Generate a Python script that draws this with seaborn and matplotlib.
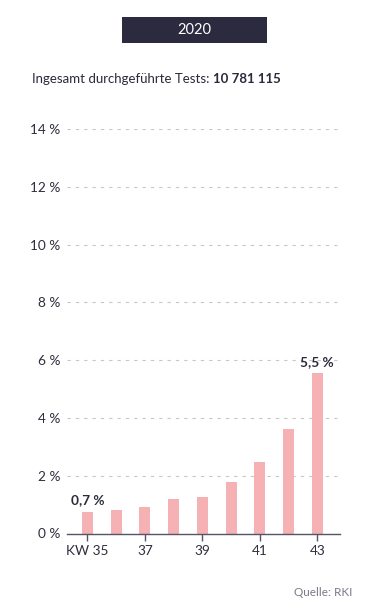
import matplotlib
matplotlib.use("Agg")
import matplotlib.pyplot as plt
from matplotlib.patches import Rectangle
import seaborn as sns
import pandas as pd

weeks = ["35", "36", "37", "38", "39", "40", "41", "42", "43"]
rates = [0.74, 0.80, 0.92, 1.19, 1.26, 1.78, 2.49, 3.60, 5.54]
tick_weeks = ["35", "37", "39", "41", "43"]
tick_labels = ["KW 35", "37", "39", "41", "43"]
y_ticks = [0, 2, 4, 6, 8, 10, 12, 14]
y_labels = ["0 %", "2 %", "4 %", "6 %", "8 %", "10 %", "12 %", "14 %"]
annotations = {"35": "0,7 %", "43": "5,5 %"}
year = "2020"
subtitle_plain = "Ingesamt durchgeführte Tests: "
subtitle_bold = "10 781 115"
source = "Quelle: RKI"

sns.set_theme(style="white")
plt.rcParams["font.family"] = ["Lato", "DejaVu Sans"]

W, H = 370, 611
fig = plt.figure(figsize=(W / 100, H / 100), dpi=100)
fig.patch.set_facecolor("white")

ax = fig.add_axes([67 / W, 1 - 533.5 / H, (340 - 67) / W, (533.5 - 129) / H])
df = pd.DataFrame({"week": weeks, "rate": rates})
sns.barplot(data=df, x="week", y="rate", order=weeks, color="#f5b1b4",
            saturation=1, width=0.38, ax=ax, linewidth=0)

ax.set_xlim(-0.71, 8.79)
ax.set_ylim(0, 14)
ax.set_xlabel("")
ax.set_ylabel("")
for s in ["top", "right", "left"]:
    ax.spines[s].set_visible(False)
ax.spines["bottom"].set_color("#55556a")
ax.spines["bottom"].set_linewidth(1.0)

ax.set_yticks(y_ticks)
ax.set_yticklabels(y_labels)
ax.tick_params(axis="y", length=0, pad=5, labelsize=9.8, labelcolor="#2e2e3e")
for y in y_ticks[1:]:
    ax.axhline(y, color="#c8c8c8", linewidth=0.8, linestyle=(0, (3, 4.5)), zorder=0)

pos = [weeks.index(w) for w in tick_weeks]
ax.set_xticks(pos)
ax.set_xticklabels(tick_labels)
ax.tick_params(axis="x", length=5, width=1, color="#55556a", pad=3.5,
               labelsize=9.8, labelcolor="#2e2e3e", bottom=True)

for w, txt in annotations.items():
    i = weeks.index(w)
    ax.annotate(txt, (i, rates[i]), xytext=(0, 4), textcoords="offset points",
                ha="center", va="bottom", fontsize=9.8, fontweight="bold",
                color="#2a2a3a", annotation_clip=False)

# header box
fig.patches.append(Rectangle((121.7 / W, 1 - 42.7 / H), 145 / W, 26 / H,
                             transform=fig.transFigure, facecolor="#2b2a3f",
                             edgecolor="none"))
fig.text(194 / W, 1 - 30 / H, year, ha="center", va="center", color="white",
         fontsize=10.5)

t1 = fig.text(32 / W, 1 - 79 / H, subtitle_plain, ha="left", va="center",
              color="#2a2a3a", fontsize=9.5)
fig.canvas.draw()
bb = t1.get_window_extent()
fig.text(bb.x1 / W, 1 - 79 / H, subtitle_bold, ha="left", va="center",
         color="#2a2a3a", fontsize=9.5, fontweight="bold")

fig.text(352 / W, 1 - 592 / H, source, ha="right", va="center",
         color="#7a7a88", fontsize=8.5)

fig.savefig("out.png", dpi=100, facecolor="white")
